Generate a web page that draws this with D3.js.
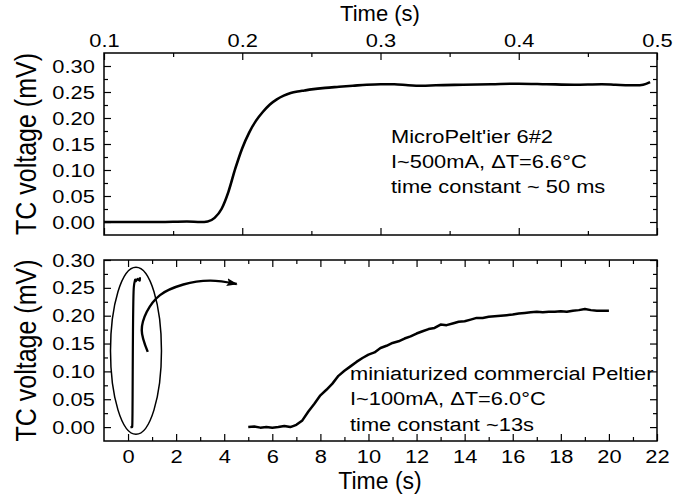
<!DOCTYPE html>
<html>
<head>
<meta charset="utf-8">
<script src="https://cdn.jsdelivr.net/npm/d3@7"></script>
<style>
body { margin: 0; background: #fff; }
svg { font-family: "Liberation Sans", Arial, sans-serif; }
</style>
</head>
<body>
<div id="container"></div>
<script>
// MicroPeltier 6#2, fast response (s, mV)
const fastTime = [0.100, 0.120, 0.140, 0.160, 0.170, 0.175, 0.180, 0.185, 0.190, 0.195,
  0.200, 0.205, 0.210, 0.215, 0.220, 0.225, 0.230, 0.235, 0.240, 0.245, 0.250,
  0.260, 0.270, 0.280, 0.290, 0.300, 0.310, 0.320, 0.330, 0.340,
  0.360, 0.380, 0.400, 0.420, 0.440, 0.460, 0.470, 0.480, 0.485, 0.490, 0.495]
const fastVoltage = [0.000, 0.000, 0.000, 0.001, 0.000, 0.001, 0.008, 0.025, 0.058, 0.103,
  0.142, 0.172, 0.195, 0.212, 0.226, 0.236, 0.243, 0.248, 0.251, 0.253, 0.255,
  0.258, 0.260, 0.262, 0.264, 0.265, 0.265, 0.263, 0.262, 0.263,
  0.264, 0.265, 0.266, 0.265, 0.264, 0.265, 0.264, 0.263, 0.263, 0.264, 0.269]

// miniaturized commercial Peltier, slow response (s, mV)
const slowTime = [5.0, 5.25, 5.5, 5.75, 6.0, 6.25, 6.5, 6.75, 7.0, 7.25, 7.5, 7.75,
  8.0, 8.25, 8.5, 8.75, 9.0, 9.25, 9.5, 9.75, 10.0, 10.25, 10.5, 10.75,
  11.0, 11.25, 11.5, 11.75, 12.0, 12.25, 12.5, 12.75, 13.0, 13.25, 13.5, 13.75,
  14.0, 14.25, 14.5, 14.75, 15.0, 15.25, 15.5, 15.75, 16.0, 16.25, 16.5, 16.75,
  17.0, 17.25, 17.5, 17.75, 18.0, 18.25, 18.5, 18.75, 19.0, 19.25, 19.5, 19.75, 20.0]
const slowVoltage = [0.000, 0.001, -0.001, 0.000, -0.001, 0.000, 0.002, 0.000, 0.004, 0.012, 0.028, 0.042,
  0.057, 0.067, 0.078, 0.092, 0.101, 0.109, 0.117, 0.124, 0.130, 0.134, 0.142, 0.146,
  0.151, 0.154, 0.159, 0.163, 0.168, 0.172, 0.176, 0.178, 0.184, 0.183, 0.186, 0.189,
  0.190, 0.193, 0.196, 0.196, 0.198, 0.199, 0.200, 0.201, 0.202, 0.204, 0.205, 0.206,
  0.207, 0.206, 0.207, 0.207, 0.208, 0.207, 0.209, 0.210, 0.212, 0.210, 0.209, 0.209, 0.209]

// curved arrow and ellipse in the lower panel (data units)
const arrowTime = [0.82, 0.57, 0.78, 1.33, 2.30, 3.41, 4.52]
const arrowVoltage = [0.135, 0.174, 0.207, 0.237, 0.256, 0.263, 0.257]
const ellipseCenter = [0.33, 0.137]
const ellipseRadius = [1.06, 0.150]

// ticks
const fastMajor = [0.1, 0.2, 0.3, 0.4, 0.5]
const fastMinor = [0.15, 0.25, 0.35, 0.45]
const timeMajor = [0, 2, 4, 6, 8, 10, 12, 14, 16, 18, 20, 22]
const timeMinor = [1, 3, 5, 7, 9, 11, 13, 15, 17, 19, 21]
const voltMajor = [0.00, 0.05, 0.10, 0.15, 0.20, 0.25, 0.30]
const voltMinor = [0.025, 0.075, 0.125, 0.175, 0.225, 0.275]

const topNote = ["MicroPelt'ier 6#2", "I~500mA, \u0394T=6.6\u00b0C", "time constant ~ 50 ms"]
const bottomNote = ["miniaturized commercial Peltier", "I~100mA, \u0394T=6.0\u00b0C", "time constant ~13s"]

const w = 686
const h = 497
const sx = 1.15  // the figure is a bit wider than the font

const svg = d3.select("#container")
  .append("svg")
  .attr("width", w)
  .attr("height", h)

const xTop = d3.scaleLinear().domain([0.1, 0.5]).range([104, 657])
const yTop = d3.scaleLinear().domain([-0.025, 0.325]).range([235, 53])
const xBot = d3.scaleLinear().domain([-1, 22]).range([104, 657])
const yBot = d3.scaleLinear().domain([-0.025, 0.30]).range([441, 260])

const styleAxis = (g) => {
  g.select(".domain").remove()
  g.selectAll("line").attr("stroke", "#000").attr("stroke-width", 1.2)
  g.selectAll("text").attr("fill", "#000").attr("font-size", 19)
}

const drawFrame = (x, y, xMajor, xMinor, xLabels, xFormat) => {
  const [x0, x1] = x.range()
  const [y0, y1] = y.range()

  // left
  svg.append("g").attr("transform", `translate(${x0},0)`)
    .call(d3.axisLeft(y).tickValues(voltMajor).tickSize(-7).tickPadding(8).tickFormat(d3.format(".2f")))
    .call(styleAxis)
    .selectAll("text").attr("transform", `scale(${sx},1)`)
  svg.append("g").attr("transform", `translate(${x0},0)`)
    .call(d3.axisLeft(y).tickValues(voltMinor).tickSize(-4).tickFormat(""))
    .call(styleAxis)
  // right
  svg.append("g").attr("transform", `translate(${x1},0)`)
    .call(d3.axisRight(y).tickValues(voltMajor).tickSize(-7).tickFormat(""))
    .call(styleAxis)
  svg.append("g").attr("transform", `translate(${x1},0)`)
    .call(d3.axisRight(y).tickValues(voltMinor).tickSize(-4).tickFormat(""))
    .call(styleAxis)

  // top
  const top = d3.axisTop(x).tickValues(xMajor).tickSize(-7).tickPadding(6)
    .tickFormat(xLabels === "top" ? xFormat : "")
  svg.append("g").attr("transform", `translate(0,${y1})`)
    .call(top)
    .call(styleAxis)
    .selectAll("text").attr("transform", `scale(${sx},1)`)
  svg.append("g").attr("transform", `translate(0,${y1})`)
    .call(d3.axisTop(x).tickValues(xMinor).tickSize(-4).tickFormat(""))
    .call(styleAxis)

  // bottom
  const bottom = d3.axisBottom(x).tickValues(xMajor).tickSize(-7).tickPadding(9)
    .tickFormat(xLabels === "bottom" ? xFormat : "")
  svg.append("g").attr("transform", `translate(0,${y0})`)
    .call(bottom)
    .call(styleAxis)
    .selectAll("text").attr("transform", `scale(${sx},1)`)
  svg.append("g").attr("transform", `translate(0,${y0})`)
    .call(d3.axisBottom(x).tickValues(xMinor).tickSize(-4).tickFormat(""))
    .call(styleAxis)

  svg.append("rect")
    .attr("x", x0).attr("y", y1)
    .attr("width", x1 - x0).attr("height", y0 - y1)
    .attr("fill", "none").attr("stroke", "#000").attr("stroke-width", 1.5)

  // y title
  svg.append("text")
    .attr("transform", `translate(36,${(y0 + y1) / 2}) scale(${sx},1) rotate(-90)`)
    .attr("text-anchor", "middle")
    .attr("font-size", 25)
    .text("TC voltage (mV)")
}

drawFrame(xTop, yTop, fastMajor, fastMinor, "top", d3.format(".1f"))
drawFrame(xBot, yBot, timeMajor, timeMinor, "bottom", d3.format("d"))

svg.append("text")
  .attr("x", 380).attr("y", 20.5)
  .attr("text-anchor", "middle")
  .attr("font-size", 22)
  .text("Time (s)")

svg.append("text")
  .attr("x", 380).attr("y", 489)
  .attr("text-anchor", "middle")
  .attr("font-size", 23)
  .text("Time (s)")

// curves
const fastTop = d3.line()
  .x((d, i) => xTop(fastTime[i]))
  .y((d) => yTop(d))
  .curve(d3.curveMonotoneX)

svg.append("path")
  .attr("d", fastTop(fastVoltage))
  .attr("fill", "none")
  .attr("stroke", "#000")
  .attr("stroke-width", 2.6)
  .attr("stroke-linejoin", "round")

const fastBot = d3.line()
  .x((d, i) => xBot(fastTime[i]))
  .y((d) => yBot(d))

svg.append("path")
  .attr("d", fastBot(fastVoltage))
  .attr("fill", "none")
  .attr("stroke", "#000")
  .attr("stroke-width", 2.2)
  .attr("stroke-linejoin", "round")

const slow = d3.line()
  .x((d, i) => xBot(slowTime[i]))
  .y((d) => yBot(d))

svg.append("path")
  .attr("d", slow(slowVoltage))
  .attr("fill", "none")
  .attr("stroke", "#000")
  .attr("stroke-width", 2.5)
  .attr("stroke-linejoin", "round")

// ellipse + arrow
svg.append("ellipse")
  .attr("cx", xBot(ellipseCenter[0]))
  .attr("cy", yBot(ellipseCenter[1]))
  .attr("rx", xBot(ellipseCenter[0] + ellipseRadius[0]) - xBot(ellipseCenter[0]))
  .attr("ry", yBot(ellipseCenter[1] - ellipseRadius[1]) - yBot(ellipseCenter[1]))
  .attr("fill", "none")
  .attr("stroke", "#000")
  .attr("stroke-width", 1.5)

svg.append("defs").append("marker")
  .attr("id", "head")
  .attr("markerUnits", "userSpaceOnUse")
  .attr("markerWidth", 12).attr("markerHeight", 10)
  .attr("refX", 10).attr("refY", 4)
  .attr("orient", "auto")
  .append("path")
  .attr("d", "M0,0 L11,4 L0,8 L2,4 Z")
  .attr("fill", "#000")

const arrow = d3.line()
  .x((d, i) => xBot(arrowTime[i]))
  .y((d) => yBot(d))
  .curve(d3.curveCatmullRom)

svg.append("path")
  .attr("d", arrow(arrowVoltage))
  .attr("fill", "none")
  .attr("stroke", "#000")
  .attr("stroke-width", 2.4)
  .attr("marker-end", "url(#head)")

// notes
const note = (lines, x, y0, step) => {
  const g = svg.append("g").attr("transform", `translate(${x},0) scale(${sx},1)`)
  g.selectAll("text")
    .data(lines)
    .enter()
    .append("text")
    .attr("x", 0)
    .attr("y", (d, i) => y0 + i * step)
    .attr("font-size", 19)
    .text((d) => d)
}

note(topNote, 391, 143, 25)
note(bottomNote, 350, 380, 25.5)
</script>
</body>
</html>
